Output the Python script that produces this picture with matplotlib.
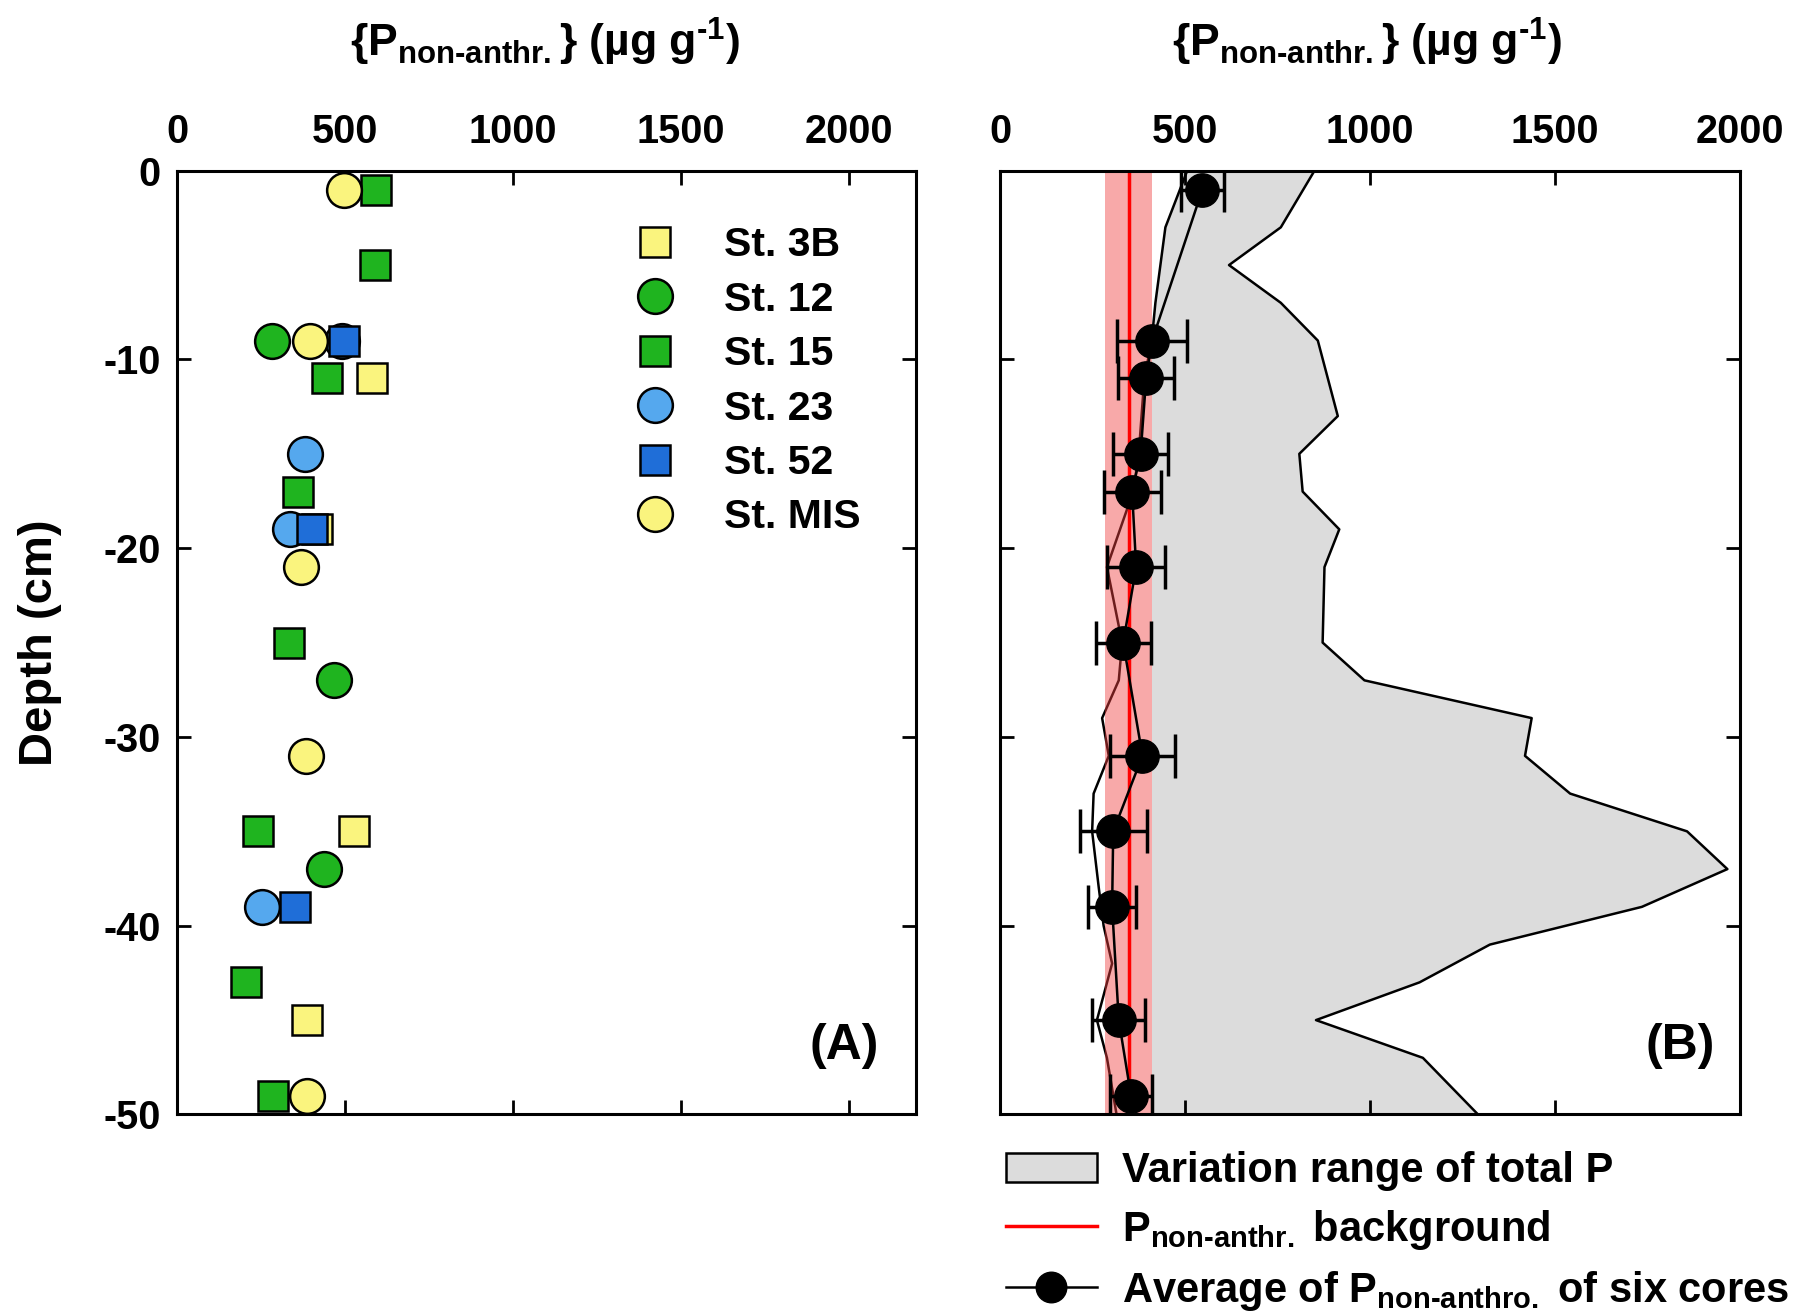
import numpy as np
import matplotlib
matplotlib.use('Agg')
import matplotlib.pyplot as plt
from matplotlib.patches import Patch
from matplotlib.lines import Line2D

plt.rcParams['font.family'] = ['Liberation Sans', 'DejaVu Sans']
plt.rcParams['font.weight'] = 'bold'
plt.rcParams['axes.unicode_minus'] = False
plt.rcParams['mathtext.fontset'] = 'custom'
plt.rcParams['mathtext.rm'] = 'Liberation Sans'
plt.rcParams['mathtext.bf'] = 'Liberation Sans:bold'
plt.rcParams['mathtext.default'] = 'bf'

# panel A - P non-anthr. per station
st3b_depth = [-11, -19, -35, -45]
st3b_p = [578, 415, 526, 387]
st12_depth = [-9, -27, -37]
st12_p = [283, 466, 436]
st15_depth = [-1, -5, -11, -17, -25, -35, -43, -49]
st15_p = [590, 588, 444, 359, 332, 240, 203, 286]
st23_depth = [-9, -15, -19, -39]
st23_p = [490, 379, 334, 253]
st52_depth = [-9, -19, -39]
st52_p = [495, 402, 349]
stmis_depth = [-1, -9, -21, -31, -49]
stmis_p = [496, 395, 367, 382, 385]

# panel B - average of six cores
avg_depth = [-1, -9, -11, -15, -17, -21, -25, -31, -35, -39, -45, -49]
avg_p = [547, 411, 395, 380, 357, 368, 333, 385, 306, 303, 321, 354]
avg_err = [59, 95, 75, 74, 77, 79, 74, 87, 91, 65, 72, 57]

# total P range (min and max line)
tp_max_depth = [0, -3, -5, -7, -9, -13, -15, -17, -19, -21, -25, -27, -29, -31, -33,
                -35, -37, -39, -41, -43, -45, -47, -50]
tp_max = [850, 759, 619, 759, 859, 913, 809, 818, 917, 877, 872, 985, 1437, 1419, 1541,
          1857, 1966, 1735, 1324, 1134, 854, 1143, 1292]
tp_min_depth = [0, -3, -7, -9, -11, -15, -17, -21, -25, -27, -29, -31, -33, -35, -38,
                -40, -42, -45, -47, -50]
tp_min = [506, 447, 420, 410, 390, 375, 360, 289, 330, 321, 276, 294, 253, 249, 267,
          280, 303, 262, 289, 315]

bg_value = 348
bg_low = 285
bg_high = 411

yellow = '#FAF47E'
green = '#1FB41F'
lblue = '#55A8EE'
dblue = '#1F6ED8'

HY = '\u2010'
title_txt = ('{P$_{\\mathbf{non' + HY + 'anthr.}}$} (\u00b5g g$^{\\mathbf{' + HY + '1}}$)')

fig = plt.figure(figsize=(17.96, 13.11), dpi=100)
axA = fig.add_axes([0.0988, 0.1499, 0.4113, 0.7199])
axB = fig.add_axes([0.5568, 0.1499, 0.4120, 0.7199])

ms_sq = 22
ms_ci = 25
axA.plot(st3b_p, st3b_depth, 's', ms=ms_sq, mfc=yellow, mec='black', mew=1.8, label='St. 3B')
axA.plot(st12_p, st12_depth, 'o', ms=ms_ci, mfc=green, mec='black', mew=1.8, label='St. 12')
axA.plot(st15_p, st15_depth, 's', ms=ms_sq, mfc=green, mec='black', mew=1.8, label='St. 15')
axA.plot(st23_p, st23_depth, 'o', ms=ms_ci, mfc=lblue, mec='black', mew=1.8, label='St. 23')
axA.plot(st52_p, st52_depth, 's', ms=ms_sq, mfc=dblue, mec='black', mew=1.8, label='St. 52')
axA.plot(stmis_p, stmis_depth, 'o', ms=ms_ci, mfc=yellow, mec='black', mew=1.8, label='St. MIS')

axA.legend(loc='upper left', bbox_to_anchor=(0.62, 0.941), frameon=False, fontsize=29.5,
           handlelength=0.95, handletextpad=1.2, labelspacing=0.40, borderpad=0,
           borderaxespad=0, numpoints=1)
axA.set_xlim(0, 2200)
axA.text(0.9025, 0.0726, '(A)', transform=axA.transAxes, ha='center', va='center',
         fontsize=36, fontweight='bold')

# panel B
poly_x = np.concatenate([tp_max, tp_min[::-1]])
poly_y = np.concatenate([tp_max_depth, tp_min_depth[::-1]])
axB.fill(poly_x, poly_y, color='#DCDCDC', lw=0, zorder=1)
axB.axvspan(0, bg_high, color='white', lw=0, zorder=1.1)
axB.plot(tp_max, tp_max_depth, color='black', lw=1.8, zorder=1.5)
axB.plot(tp_min, tp_min_depth, color='black', lw=1.8, zorder=1.5)
axB.axvspan(bg_low, bg_high, color='#F04040', alpha=0.45, lw=0, zorder=2)
axB.axvline(bg_value, color='#FF0000', lw=2.5, zorder=2.5)
axB.errorbar(avg_p, avg_depth, xerr=avg_err, fmt='-o', color='black', ms=24, lw=1.8,
             elinewidth=2.5, capsize=16, capthick=2.5, zorder=3)
axB.set_xlim(0, 2000)
axB.text(0.919, 0.0726, '(B)', transform=axB.transAxes, ha='center', va='center',
         fontsize=36, fontweight='bold')

handles = [Patch(facecolor='#DCDCDC', edgecolor='black', lw=1.8),
           Line2D([], [], color='#FF0000', lw=2.5),
           Line2D([], [], color='black', lw=1.8, marker='o', ms=22)]
labels = ['Variation range of total P',
          'P$_{\\mathrm{non' + HY + 'anthr.}}$ background',
          'Average of P$_{\\mathrm{non' + HY + 'anthro.}}$ of six cores']
axB.legend(handles, labels, loc='upper left', bbox_to_anchor=(0.0077, -0.0385), frameon=False,
           fontsize=30, handlelength=2.19, handletextpad=0.61, labelspacing=0.405,
           borderpad=0, borderaxespad=0)

for ax in (axA, axB):
    ax.set_ylim(-50, 0)
    ax.set_xticks([0, 500, 1000, 1500, 2000])
    ax.set_yticks([0, -10, -20, -30, -40, -50])
    ax.xaxis.tick_top()
    ax.tick_params(axis='both', which='both', direction='in', length=10, width=2,
                   top=True, bottom=True, left=True, right=True, labelsize=28.5,
                   labeltop=True, labelbottom=False)
    ax.tick_params(axis='x', pad=14)
    ax.tick_params(axis='y', pad=12)
    for s in ax.spines.values():
        s.set_linewidth(2.2)

axB.tick_params(axis='y', labelleft=False)

fig.text(0.3035, 0.9565, title_txt, ha='center', va='baseline', fontsize=32, fontweight='bold')
fig.text(0.761, 0.9565, title_txt, ha='center', va='baseline', fontsize=32, fontweight='bold')
fig.text(0.0223, 0.510, 'Depth (cm)', rotation=90, ha='center', va='center',
         fontsize=34, fontweight='bold')

fig.savefig('out.png', dpi=100)
